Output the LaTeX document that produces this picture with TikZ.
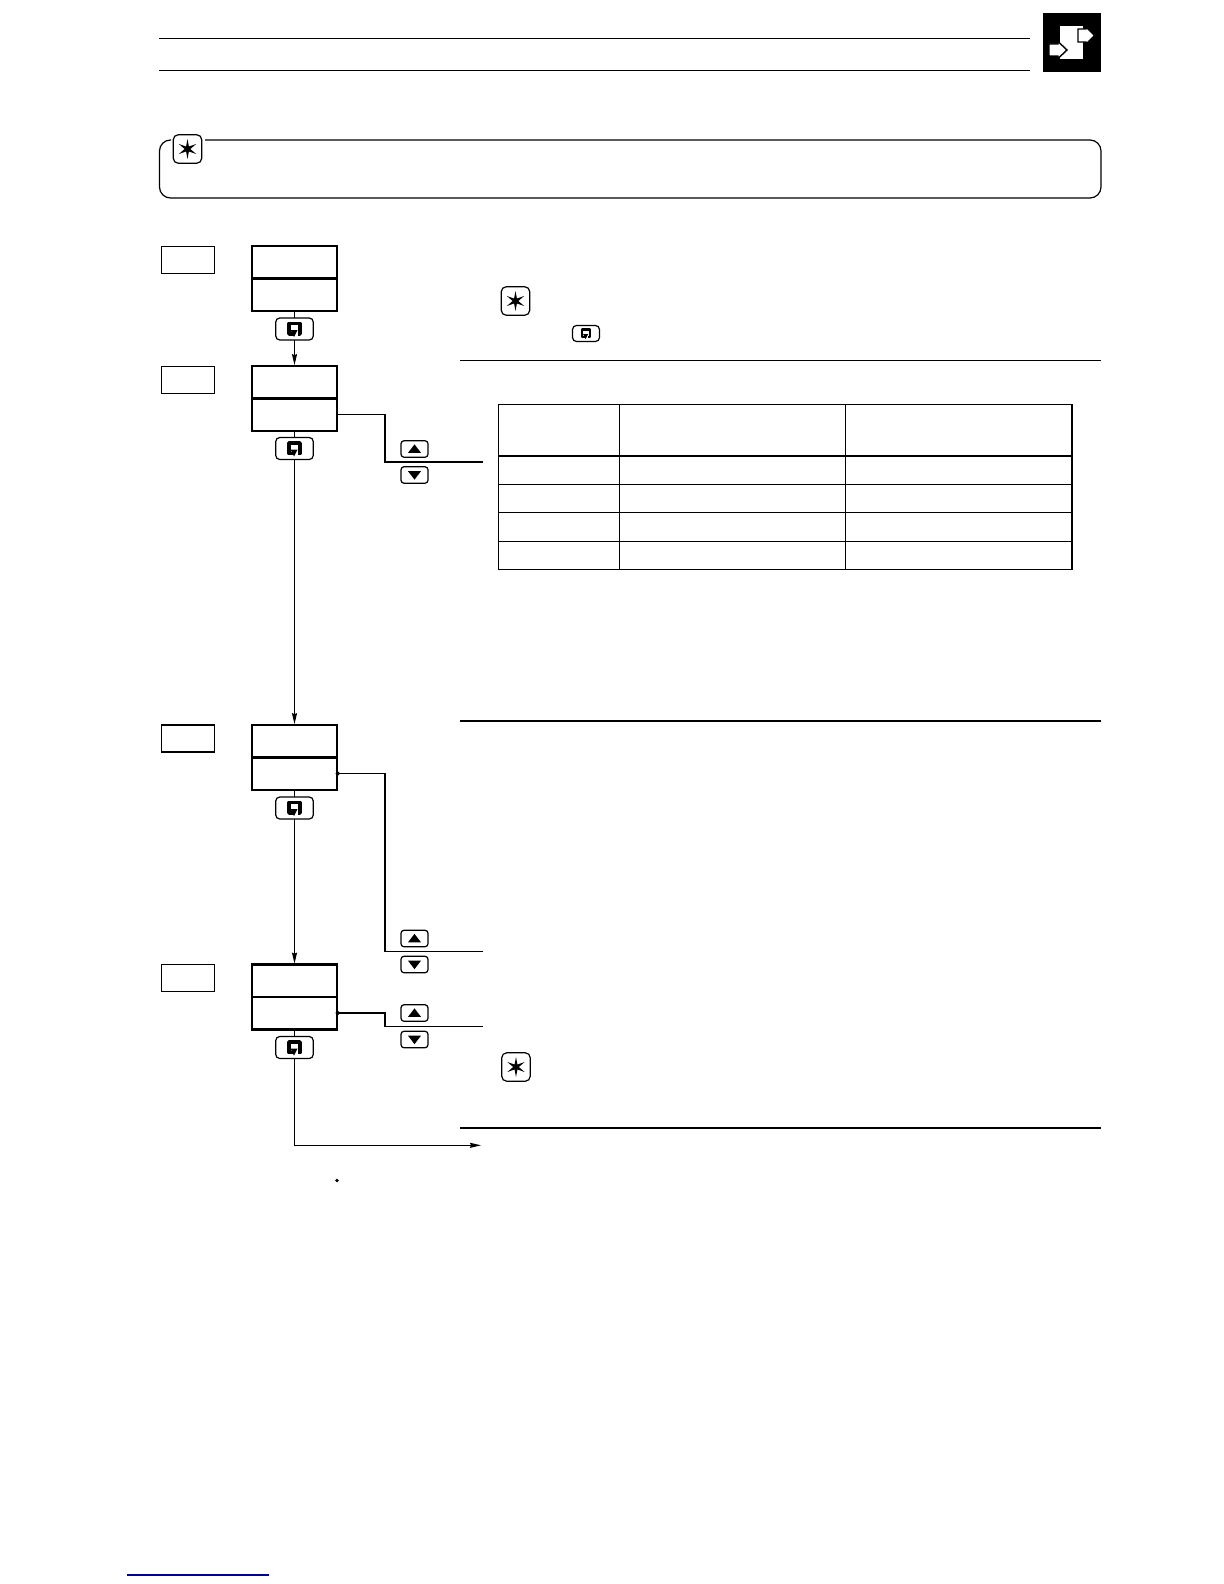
\documentclass[tikz,border=0pt]{standalone}
\usetikzlibrary{shapes.geometric,arrows.meta}
\tikzset{
  stepbox/.style={draw, line width=0.6pt, minimum width=53, minimum height=27, inner sep=0pt},
  dispbox/.style={draw, line width=1.25pt, minimum width=85, minimum height=32.5, inner sep=0pt},
  retkey/.style={draw, line width=0.6pt, rounded corners=2pt, minimum width=37.5, minimum height=22, inner sep=0pt},
  arrkey/.style={draw, line width=0.6pt, rounded corners=1.5pt, minimum width=27, minimum height=16.5, inner sep=0pt},
  starkey/.style={draw, line width=0.6pt, rounded corners=2.5pt, minimum width=28.5, minimum height=28.5, inner sep=0pt},
  starmark/.style={star, star points=6, star point ratio=3.5, fill=black, minimum size=20, inner sep=0pt},
  tri/.style={regular polygon, regular polygon sides=3, fill=black, minimum size=15, inner sep=0pt, yscale=0.75},
  flow/.style={line width=0.55pt},
  tip/.style={-{Stealth[length=5.5pt,width=2.5pt,inset=0.5pt]}},
  rulethin/.style={line width=0.6pt},
  rulethick/.style={line width=0.9pt}
}
% glyph on the return key
\newcommand{\retglyph}[2]{
  \begin{scope}[shift={(#2.center)}, scale=#1]
    \draw[line width=#1*1.8pt, line join=round] (-1,5) -- (-5.5,5) -- (-5.5,-5.5) -- (5.5,-5.5) -- (5.5,5) -- (3.5,5);
    \fill (-4,1) -- (3,1) -- (-0.5,8) -- cycle;
  \end{scope}
}
\begin{document}
\begin{tikzpicture}[x=0.5pt, y=-0.5pt, every node/.append style={scale=0.5, transform shape}]
  \useasboundingbox (0,0) rectangle (1224,1584);

  % header
  \coordinate (headaL) at (159,38.5);
  \coordinate (headaR) at (1030,38.5);
  \coordinate (headbL) at (159,70.8);
  \coordinate (headbR) at (1030,70.8);
  \draw[rulethin] (headaL) -- (headaR);
  \draw[rulethin] (headbL) -- (headbR);
  \fill[black] (1043,13) rectangle (1101,72);
  \fill[white] (1060,26) rectangle (1083,59);
  \filldraw[fill=white, draw=black, line width=0.7pt] (1078,29) -- (1086,29) -- (1086,27) -- (1094.5,35.5) -- (1086,44) -- (1086,42) -- (1078,42) -- cycle;
  \filldraw[fill=white, draw=black, line width=0.7pt] (1049,44) -- (1058,44) -- (1058,41.5) -- (1067,50) -- (1058,58.5) -- (1058,56) -- (1049,56) -- cycle;

  % note frame
  \node[starkey] (noteS) at (187.5,149) {};
  \node[starmark] (noteM) at (noteS.center) {};
  \coordinate (noteA) at (205,140);
  \coordinate (noteB) at (171,140);
  \draw[rulethin, rounded corners=5.5pt] (noteA) -- (1101,140) -- (1101,198) -- (159.5,198) -- (159.5,140) -- (noteB);

  % step boxes
  \node[stepbox] (stepA) at (188,260) {};
  \node[stepbox] (stepB) at (188,380) {};
  \node[stepbox] (stepC) at (188,738.5) {};
  \node[stepbox] (stepD) at (188,978.3) {};

  % displays
  \node[dispbox] (dispAt) at (294.5,262) {};
  \node[dispbox] (dispAb) at (294.5,294.5) {};
  \node[dispbox] (dispBt) at (294.5,382) {};
  \node[dispbox] (dispBb) at (294.5,414.5) {};
  \node[dispbox] (dispCt) at (294.5,741) {};
  \node[dispbox] (dispCb) at (294.5,773.5) {};
  \node[dispbox] (dispDt) at (294.5,980.5) {};
  \node[dispbox] (dispDb) at (294.5,1013) {};

  % return keys
  \node[retkey] (retA) at (294.5,329) {};
  \node[retkey] (retB) at (294.5,448.5) {};
  \node[retkey] (retC) at (294.5,808) {};
  \node[retkey] (retD) at (294.5,1047.5) {};
  \retglyph{1}{retA}
  \retglyph{1}{retB}
  \retglyph{1}{retC}
  \retglyph{1}{retD}

  % up and down keys
  \node[arrkey] (upB) at (414.5,449) {};
  \node[arrkey] (downB) at (414.5,475) {};
  \node[arrkey] (upC) at (414.5,938.5) {};
  \node[arrkey] (downC) at (414.5,964.5) {};
  \node[arrkey] (upD) at (414.5,1013) {};
  \node[arrkey] (downD) at (414.5,1039.5) {};
  \node[tri] (triuB) at ([yshift=-0.5pt]upB.center) {};
  \node[tri, shape border rotate=180] (tridB) at ([yshift=0.5pt]downB.center) {};
  \node[tri] (triuC) at ([yshift=-0.5pt]upC.center) {};
  \node[tri, shape border rotate=180] (tridC) at ([yshift=0.5pt]downC.center) {};
  \node[tri] (triuD) at ([yshift=-0.5pt]upD.center) {};
  \node[tri, shape border rotate=180] (tridD) at ([yshift=0.5pt]downD.center) {};

  % flow between the displays
  \draw[flow] (dispAb) -- (retA);
  \draw[flow, tip] (retA) -- (dispBt);
  \draw[flow] (dispBb) -- (retB);
  \draw[flow, tip] (retB) -- (dispCt);
  \draw[flow] (dispCb) -- (retC);
  \draw[flow, tip] (retC) -- (dispDt);
  \draw[flow] (dispDb) -- (retD);
  \coordinate (exitP) at (481,1145.3);
  \draw[flow, tip] (retD) |- (exitP);

  % branches to the text column
  \coordinate (branchB) at (483,461.5);
  \coordinate (branchC) at (483,951.5);
  \coordinate (branchD) at (483,1026.4);
  \draw[line width=0.6pt] (dispBb.east) -- (385,414.5) -- (385,461.5);
  \draw[line width=1pt] (385,414.5) -- (385,461.5) -- (branchB);
  \draw[flow] (dispCb.east) -- (385,773.5) -- (385,951.5) -- (branchC);
  \draw[flow] (dispDb.east) -- (385,1013) -- (385,1026.4) -- (branchD);

  % small dots
  \fill (dispCb.east) circle (2);
  \fill (dispDb.east) circle (2);
  \fill (337,1180.5) circle (1.8);

  % side notes
  \node[starkey] (sideS) at (515.5,301) {};
  \node[starmark] (sideM) at (sideS.center) {};
  \node[retkey, minimum width=27, minimum height=16] (sideR) at (586,333.5) {};
  \retglyph{0.7}{sideR}
  \node[starkey] (sideT) at (516,1067) {};
  \node[starmark] (sideN) at (sideT.center) {};

  % rules
  \coordinate (ruleaL) at (460,360.5);
  \coordinate (ruleaR) at (1101,360.5);
  \coordinate (rulebL) at (460,721);
  \coordinate (rulebR) at (1101,721);
  \coordinate (rulecL) at (460,1128);
  \coordinate (rulecR) at (1101,1128);
  \draw[rulethin] (ruleaL) -- (ruleaR);
  \draw[rulethick] (rulebL) -- (rulebR);
  \draw[rulethick] (rulecL) -- (rulecR);

  % table
  \draw[rulethin] (498.5,404.5) rectangle (1072,569.4);
  \draw[line width=1pt] (1072,404) -- (1072,569.8);
  \draw[rulethin] (619.5,404.5) -- (619.5,569.4);
  \draw[rulethin] (845.5,404.5) -- (845.5,569.4);
  \draw[line width=0.95pt] (498.5,456) -- (1072,456);
  \draw[rulethin] (498.5,484.5) -- (1072,484.5);
  \draw[rulethin] (498.5,512.5) -- (1072,512.5);
  \draw[rulethin] (498.5,541.4) -- (1072,541.4);

  % link line at the foot
  \draw[blue!60!black, line width=0.6pt] (127,1575) -- (269,1575);
\end{tikzpicture}
\end{document}
